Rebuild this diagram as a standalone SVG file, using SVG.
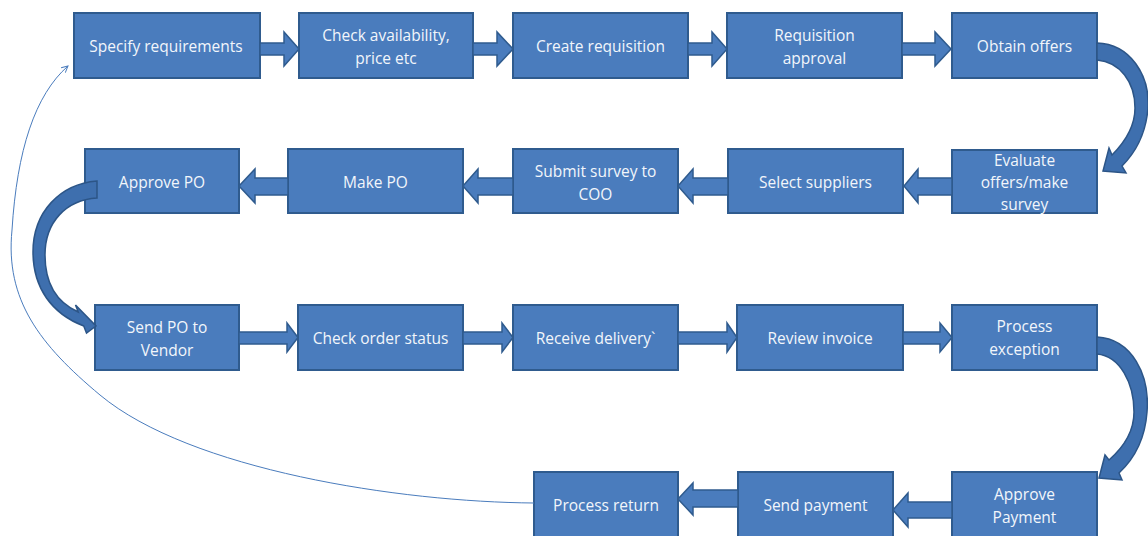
<svg xmlns="http://www.w3.org/2000/svg" width="1148" height="536" viewBox="0 0 1148 536">
<defs>
<style>
.box{fill:#4A7CBD;stroke:#2F5B8E;stroke-width:2}
.t{font-family:"Open Sans","Liberation Sans",sans-serif;font-size:15.5px;fill:#F2F6FB;text-anchor:middle;dominant-baseline:central}
.ar{fill:#4A7CBD;stroke:#2F5B8E;stroke-width:1.5;stroke-linejoin:miter}
.cv{fill:#3E6FAE;stroke:#2C5587;stroke-width:1.5}
.ln{fill:none;stroke:#4A7CBD;stroke-width:1}
</style>
<marker id="oh" viewBox="0 0 10 10" refX="9" refY="5" markerWidth="8" markerHeight="8" orient="auto" markerUnits="userSpaceOnUse">
<path d="M1,1 L9,5 L1,9" fill="none" stroke="#4A7CBD" stroke-width="1.2"/>
</marker>
</defs>
<rect width="1148" height="536" fill="#FFFFFF"/>

<g id="n1"><rect class="box" x="74" y="13" width="186" height="65"/><text class="t" x="166" y="45.5">Specify requirements</text></g>
<g id="n2"><rect class="box" x="299" y="13" width="174" height="65"/><text class="t" x="386" y="35">Check availability,</text><text class="t" x="386" y="58">price etc</text></g>
<g id="n3"><rect class="box" x="513" y="13" width="175" height="65"/><text class="t" x="600.5" y="45.5">Create requisition</text></g>
<g id="n4"><rect class="box" x="727" y="13" width="175" height="65"/><text class="t" x="814.5" y="35">Requisition</text><text class="t" x="814.5" y="58">approval</text></g>
<g id="n5"><rect class="box" x="952" y="13" width="145" height="65"/><text class="t" x="1024.5" y="45.5">Obtain offers</text></g>

<g id="n6"><rect class="box" x="952" y="150" width="145" height="63"/><text class="t" x="1024.5" y="160">Evaluate</text><text class="t" x="1024.5" y="182">offers/make</text><text class="t" x="1024.5" y="204">survey</text></g>
<g id="n7"><rect class="box" x="728" y="149" width="175" height="64"/><text class="t" x="815.5" y="182">Select suppliers</text></g>
<g id="n8"><rect class="box" x="513" y="149" width="165" height="64"/><text class="t" x="595.5" y="171">Submit survey to</text><text class="t" x="595.5" y="194">COO</text></g>
<g id="n9"><rect class="box" x="288" y="149" width="175" height="64"/><text class="t" x="375.5" y="182">Make PO</text></g>
<g id="n10"><rect class="box" x="85" y="149" width="154" height="64"/><text class="t" x="162" y="182">Approve PO</text></g>

<g id="n11"><rect class="box" x="95" y="305" width="144" height="65"/><text class="t" x="167" y="327">Send PO to</text><text class="t" x="167" y="350">Vendor</text></g>
<g id="n12"><rect class="box" x="298" y="305" width="165" height="65"/><text class="t" x="380.5" y="337.5">Check order status</text></g>
<g id="n13"><rect class="box" x="513" y="305" width="165" height="65"/><text class="t" x="595.5" y="337.5">Receive delivery`</text></g>
<g id="n14"><rect class="box" x="737" y="305" width="166" height="65"/><text class="t" x="820" y="337.5">Review invoice</text></g>
<g id="n15"><rect class="box" x="952" y="305" width="145" height="65"/><text class="t" x="1024.5" y="326">Process</text><text class="t" x="1024.5" y="349">exception</text></g>

<g id="n16"><rect class="box" x="952" y="472" width="145" height="66"/><text class="t" x="1024.5" y="494">Approve</text><text class="t" x="1024.5" y="517">Payment</text></g>
<g id="n17"><rect class="box" x="738" y="472" width="155" height="66"/><text class="t" x="815.5" y="505">Send payment</text></g>
<g id="n18"><rect class="box" x="534" y="472" width="144" height="66"/><text class="t" x="606" y="505">Process return</text></g>

<g id="connectors">
<path class="ar" d="M260,43 L284,43 L284,32 L299,49 L284,66 L284,55 L260,55 Z"/>
<path class="ar" d="M473,43 L497,43 L497,32 L513,49 L497,66 L497,55 L473,55 Z"/>
<path class="ar" d="M688,43 L712,43 L712,32 L727,49 L712,66 L712,55 L688,55 Z"/>
<path class="ar" d="M902,43 L935,43 L935,32 L951,49 L935,66 L935,55 L902,55 Z"/>
<path class="ar" d="M952,178 L918,178 L918,169 L904,186 L918,203 L918,195 L952,195 Z"/>
<path class="ar" d="M728,178 L693,178 L693,169 L678,186 L693,203 L693,195 L728,195 Z"/>
<path class="ar" d="M513,178 L478,178 L478,169 L463,186 L478,203 L478,195 L513,195 Z"/>
<path class="ar" d="M288,178 L255,178 L255,169 L239,186 L255,203 L255,195 L288,195 Z"/>
<path class="ar" d="M239,332 L287,332 L287,323 L298,337.5 L287,352 L287,344 L239,344 Z"/>
<path class="ar" d="M463,332 L502,332 L502,323 L513,337.5 L502,352 L502,344 L463,344 Z"/>
<path class="ar" d="M678,332 L727,332 L727,323 L737,337.5 L727,352 L727,344 L678,344 Z"/>
<path class="ar" d="M903,332 L940,332 L940,323 L952,337.5 L940,352 L940,344 L903,344 Z"/>
<path class="ar" d="M952,502 L908,502 L908,493 L893,510 L908,527 L908,518 L952,518 Z"/>
<path class="ar" d="M738,490 L693,490 L693,483 L678,499 L693,515 L693,507 L738,507 Z"/>
<path class="cv" d="M1097,43 C1130,44 1150,75 1148,108 C1146,133 1135,153 1122,166 L1126,173 L1103,171 L1109,148 L1112,155 C1126,141 1135,125 1135,108 C1135,82 1120,62 1097,60 Z"/>
<path class="cv" d="M97,181 C60,184 33,212 33,252 C33,288 52,314 83.75,326 L86.5,333 L96,326 L75.5,305 L78.25,312 C58,303 45,285 45,255 C45,222 66,200 97,198 Z"/>
<path class="cv" d="M1097,337 C1132,339 1150,375 1147,412 C1145,440 1133,460 1119,473 L1122,480 L1099,478 L1105,455 L1109,460 C1124,447 1134,430 1134,412 C1134,383 1120,356 1097,354 Z"/>
<path class="ln" marker-end="url(#oh)" d="M534,503 C400,502 190,470 100,395 C40,345 5,300 12,230 C17,150 35,95 68,66"/>
</g>
</svg>
